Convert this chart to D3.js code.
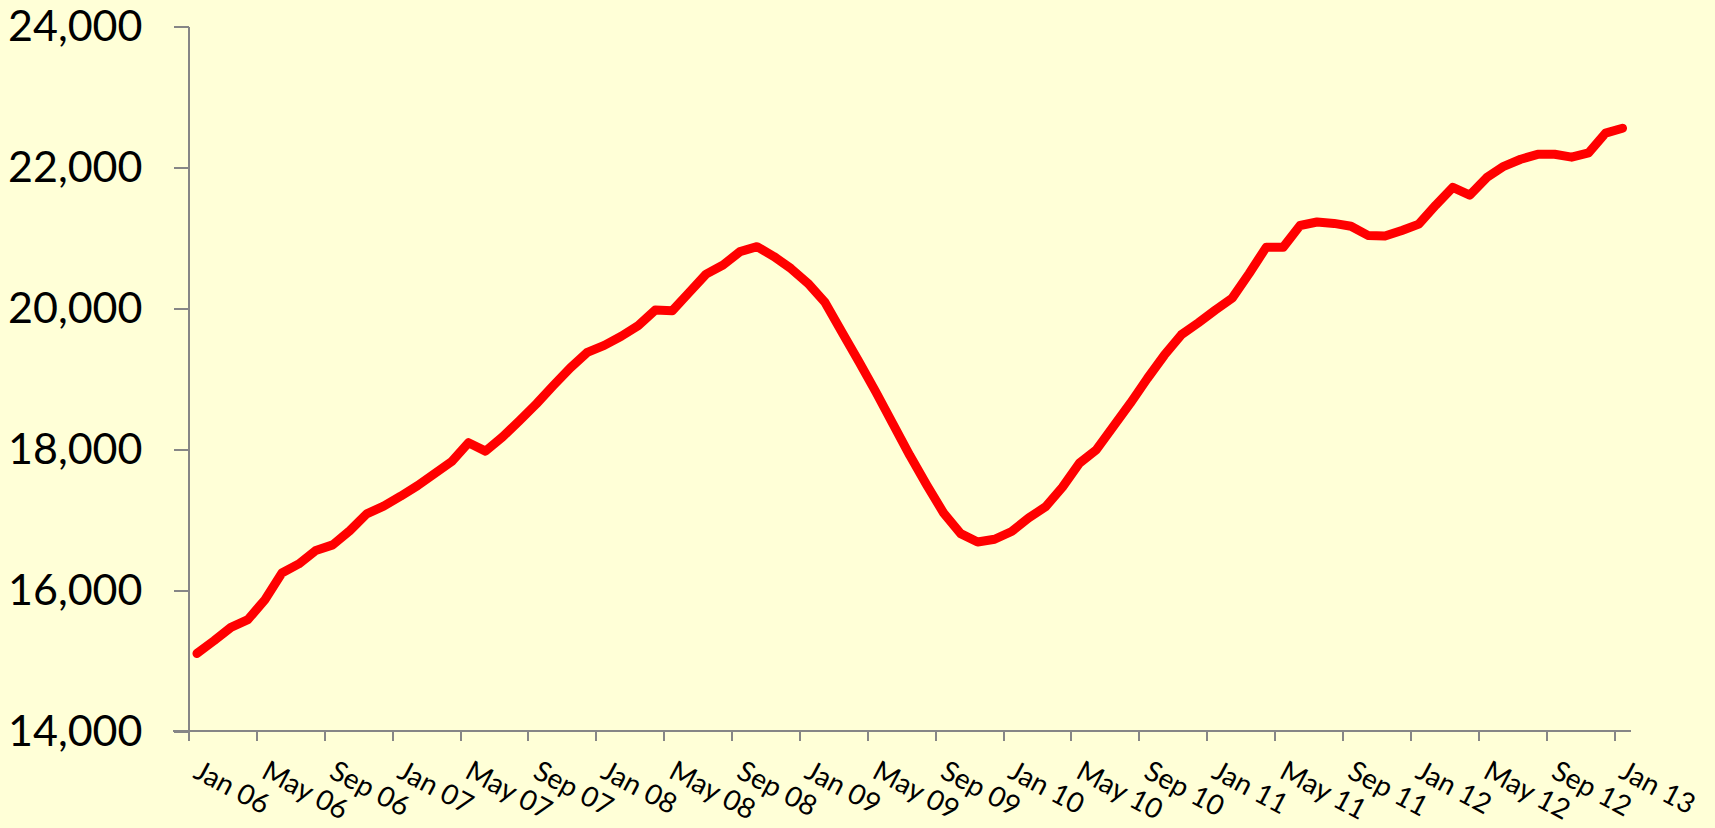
<!DOCTYPE html>
<html>
<head>
<meta charset="UTF-8">
<title>Monthly series Jan 06 - Jan 13</title>
<script src="https://cdn.jsdelivr.net/npm/d3@7"></script>
<style>
  body { margin: 0; background: #FFFFD7; }
  svg { display: block; }
  .axis path, .axis line { stroke: #868686; stroke-width: 2px; shape-rendering: crispEdges; }
  .axis text { fill: #000; font-family: Lato, "Open Sans", sans-serif; }
</style>
</head>
<body>
<script>
// monthly values, Jan 06 .. Jan 13
var values = [
  15100, 15280, 15470, 15580, 15860, 16240, 16370, 16560, 16640, 16840, 17080, 17190,
  17330, 17480, 17650, 17820, 18090, 17970, 18170, 18400, 18640, 18900, 19150, 19370,
  19470, 19600, 19750, 19970, 19960, 20220, 20480, 20610, 20800, 20870, 20730, 20560,
  20350, 20080, 19660, 19240, 18810, 18360, 17910, 17490, 17090, 16800, 16680, 16720,
  16830, 17020, 17180, 17460, 17800, 17990, 18320, 18650, 19000, 19330, 19620, 19790,
  19970, 20140, 20490, 20860, 20860, 21170, 21220, 21200, 21160, 21030, 21020, 21100,
  21190, 21460, 21710, 21600, 21850, 22010, 22110, 22180, 22180, 22140, 22200, 22480,
  22550
];

// categories: one per month
var months = d3.timeMonth.range(new Date(2006, 0, 1), new Date(2013, 1, 1));

// every 4th month gets a label
var tickLabels = ["Jan 06","May 06","Sep 06","Jan 07","May 07","Sep 07","Jan 08","May 08",
  "Sep 08","Jan 09","May 09","Sep 09","Jan 10","May 10","Sep 10","Jan 11","May 11",
  "Sep 11","Jan 12","May 12","Sep 12","Jan 13"];

var yTicks = [14000, 16000, 18000, 20000, 22000, 24000];

var width = 1715, height = 828;

var svg = d3.select("body").append("svg")
    .attr("width", width)
    .attr("height", height);

// x is in category units, each month sits in the middle of its slot
var x = d3.scaleLinear()
    .domain([0, months.length])
    .range([188.5, 1631]);

var y = d3.scaleLinear()
    .domain([14000, 24000])
    .range([731, 26]);

var yAxis = svg.append("g")
    .attr("class", "axis")
    .attr("transform", "translate(188.5,0)")
    .call(d3.axisLeft(y)
      .tickValues(yTicks)
      .tickSize(15)
      .tickSizeOuter(0)
      .tickPadding(31)
      .tickFormat(d3.format(",")));

yAxis.selectAll("text")
    .attr("font-size", "43px")
    .attr("dy", "0.34em");

var xAxis = svg.append("g")
    .attr("class", "axis")
    .attr("transform", "translate(0,731)")
    .call(d3.axisBottom(x)
      .tickValues(d3.range(0, months.length, 4))
      .tickSize(10)
      .tickSizeOuter(0)
      .tickFormat(function (d, i) { return tickLabels[i]; }));

xAxis.select(".domain").attr("d", "M173,0H1631");

xAxis.selectAll("text")
    .attr("font-size", "28px")
    .attr("text-anchor", "start")
    .attr("y", 0)
    .attr("dy", 0)
    .attr("transform", "translate(3,46) rotate(28)");

var line = d3.line()
    .x(function (d, i) { return x(i + 0.5); })
    .y(function (d) { return y(d); });

svg.append("path")
    .datum(values)
    .attr("d", line)
    .attr("fill", "none")
    .attr("stroke", "#FF0000")
    .attr("stroke-width", 9)
    .attr("stroke-linejoin", "round")
    .attr("stroke-linecap", "round");
</script>
</body>
</html>
